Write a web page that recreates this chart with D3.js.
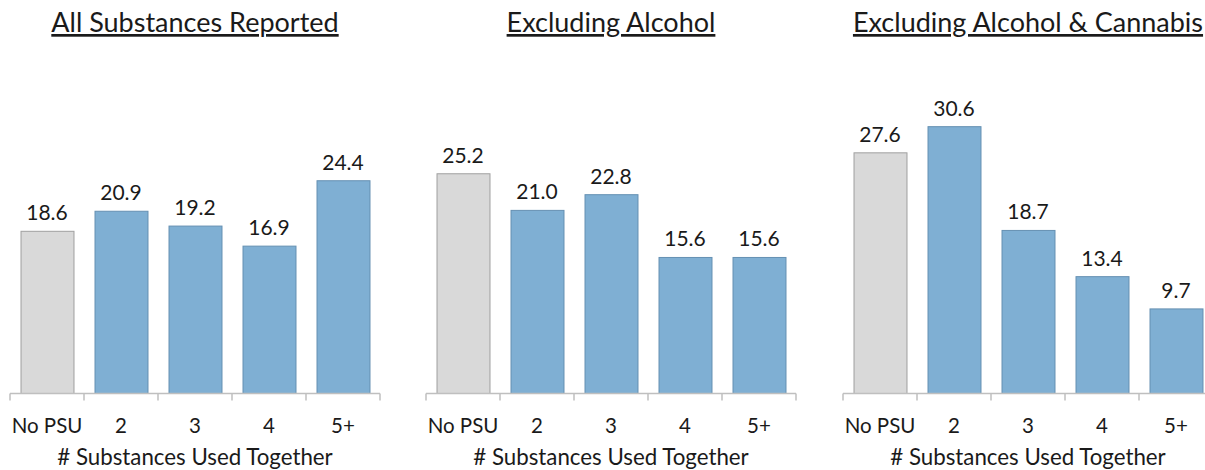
<!DOCTYPE html>
<html>
<head>
<meta charset="utf-8">
<script src="https://cdn.jsdelivr.net/npm/d3@7"></script>
<style>
  body { margin: 0; background: #fff; }
  svg text { font-family: Lato, "Open Sans", sans-serif; fill: #1a1a1a; }
</style>
</head>
<body>
<div class="chart"></div>
<script>
// data
let categories = ["No PSU", "2", "3", "4", "5+"];
let titles = ["All Substances Reported", "Excluding Alcohol", "Excluding Alcohol & Cannabis"];
let allSubstances = [18.6, 20.9, 19.2, 16.9, 24.4];
let exclAlcohol = [25.2, 21.0, 22.8, 15.6, 15.6];
let exclAlcCannabis = [27.6, 30.6, 18.7, 13.4, 9.7];
let xTitle = "# Substances Used Together";

let panels = [allSubstances, exclAlcohol, exclAlcCannabis];

let width = 1205;
let height = 470;
let baseY = 393.5;
let panelW = 370;
let panelStarts = [10, 426, 843];

let svg = d3.select(".chart")
  .append("svg")
  .attr("width", width)
  .attr("height", height);

let y = d3.scaleLinear()
  .domain([0, 35])
  .range([baseY, baseY - 35 * 8.72]);

panels.forEach(function(values, p) {
  let x0 = panelStarts[p];
  let x = d3.scaleBand()
    .domain(categories)
    .range([x0, x0 + panelW])
    .paddingInner(0.284)
    .paddingOuter(0.142);

  let g = svg.append("g");

  // title
  g.append("text")
    .attr("x", x0 + panelW / 2)
    .attr("y", 32)
    .attr("text-anchor", "middle")
    .attr("font-size", 27)
    .attr("text-decoration", "underline")
    .text(titles[p]);

  // bars
  g.selectAll(".bar")
    .data(values)
    .enter().append("rect")
    .attr("class", "bar")
    .attr("x", function(d, i) { return x(categories[i]) + 0.5; })
    .attr("y", function(d) { return y(d); })
    .attr("width", x.bandwidth())
    .attr("height", function(d) { return baseY - y(d); })
    .attr("fill", function(d, i) { return i == 0 ? "#d9d9d9" : "#7fafd3"; })
    .attr("stroke", function(d, i) { return i == 0 ? "#a0a0a0" : "#6590b2"; })
    .attr("stroke-width", 1);

  // value labels
  g.selectAll(".val")
    .data(values)
    .enter().append("text")
    .attr("class", "val")
    .attr("x", function(d, i) { return x(categories[i]) + x.bandwidth() / 2; })
    .attr("y", function(d) { return y(d) - 11; })
    .attr("text-anchor", "middle")
    .attr("font-size", 21)
    .text(function(d) { return d.toFixed(1); });

  // axis line + ticks between bands
  g.append("line")
    .attr("x1", x0).attr("x2", x0 + panelW)
    .attr("y1", baseY).attr("y2", baseY)
    .attr("stroke", "#bfbfbf")
    .attr("stroke-width", 1.5);

  let tickXs = categories.map(function(c) { return x(c) - x.step() * 0.142; });
  tickXs.push(x0 + panelW);
  g.selectAll(".tick")
    .data(tickXs)
    .enter().append("line")
    .attr("x1", function(d) { return d; })
    .attr("x2", function(d) { return d; })
    .attr("y1", baseY)
    .attr("y2", baseY + 7)
    .attr("stroke", "#bfbfbf")
    .attr("stroke-width", 1.5);

  // category labels
  g.selectAll(".cat")
    .data(categories)
    .enter().append("text")
    .attr("class", "cat")
    .attr("x", function(d) { return x(d) + x.bandwidth() / 2; })
    .attr("y", 433)
    .attr("text-anchor", "middle")
    .attr("font-size", 20.5)
    .text(function(d) { return d; });

  // axis title
  g.append("text")
    .attr("x", x0 + panelW / 2)
    .attr("y", 465)
    .attr("text-anchor", "middle")
    .attr("font-size", 22.3)
    .text(xTitle);
});
</script>
</body>
</html>
